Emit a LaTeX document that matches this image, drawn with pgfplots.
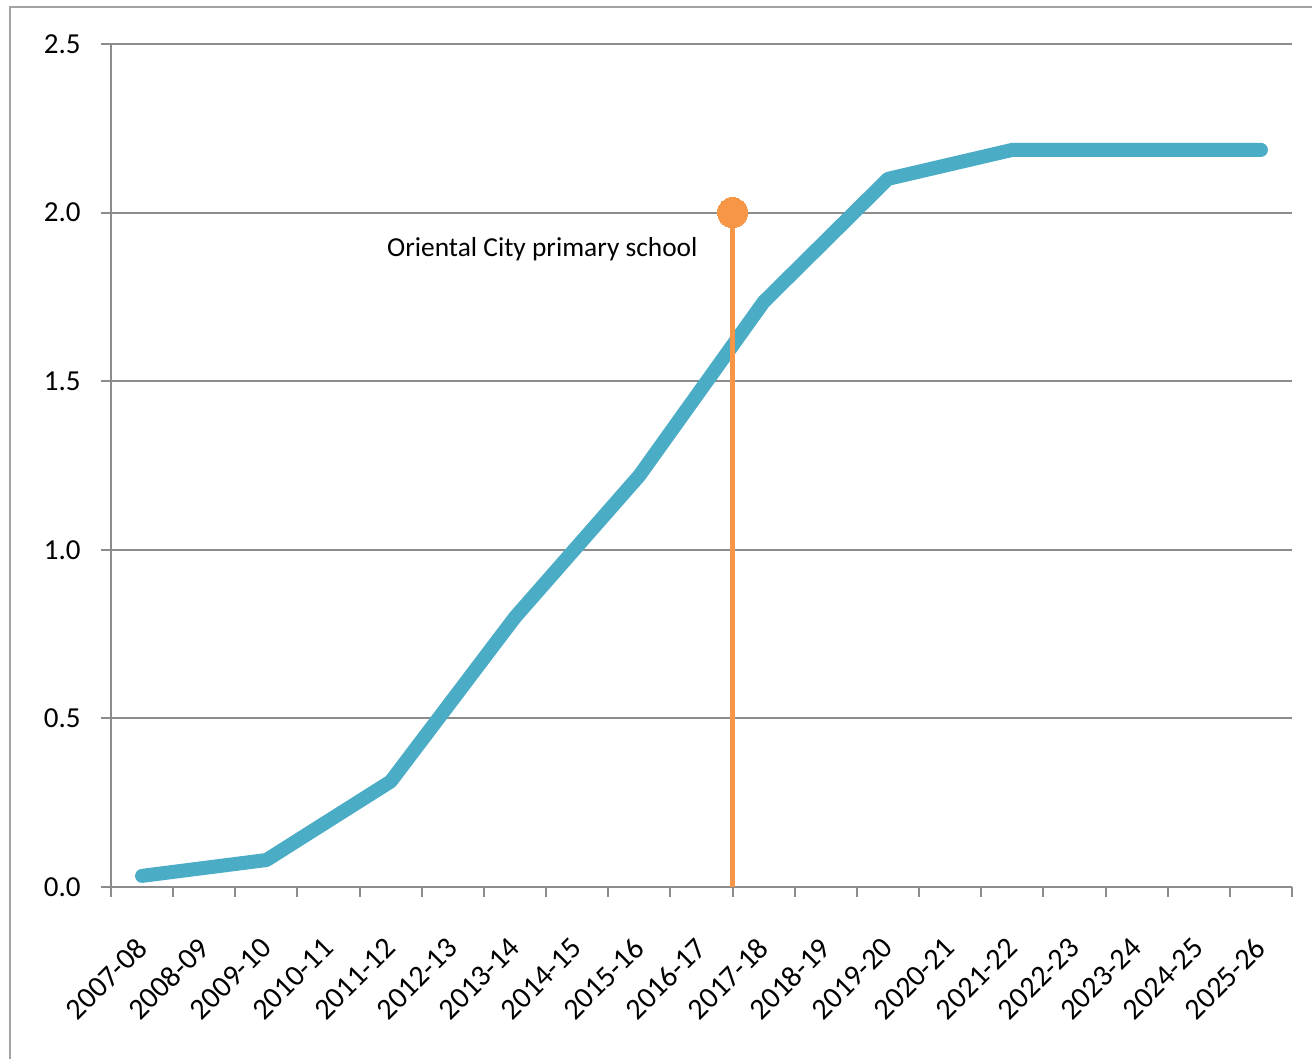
\documentclass[border=0pt]{standalone}
\usepackage{pgfplots}
\pgfplotsset{compat=1.18}
\usepackage{fontspec}
\setmainfont{Carlito}
\definecolor{aqua}{HTML}{4BACC6}
\definecolor{orng}{HTML}{F79646}
\definecolor{gridc}{HTML}{8C8C8C}
\begin{document}
\begin{tikzpicture}
\useasboundingbox (-55.5pt,-86pt) rectangle (600.5pt,443.5pt);
\draw[color=gridc!80, line width=1pt] (-50.5pt,-90pt) -- (-50.5pt,440pt) -- (610pt,440pt);
\begin{axis}[
  at={(0,0)}, anchor=south west,
  scale only axis, width=590.5pt, height=421.5pt,
  xmin=-0.5, xmax=18.5, ymin=0, ymax=2.5,
  axis x line=bottom, axis y line=left,
  axis line style={gridc, line width=1pt, -},
  xtick={0,...,18},
  xticklabels={2007-08,2008-09,2009-10,2010-11,2011-12,2012-13,2013-14,2014-15,2015-16,2016-17,2017-18,2018-19,2019-20,2020-21,2021-22,2022-23,2023-24,2024-25,2025-26},
  major x tick style={draw=none},
  minor xtick={-0.5,0.5,...,18.5},
  minor tick length=5pt,
  minor x tick style={gridc, line width=1pt},
  ytick={0,0.5,...,2.5},
  major tick length=5pt,
  tick align=outside,
  major y tick style={gridc, line width=1pt},
  ymajorgrids,
  grid style={gridc, line width=1pt},
  /pgf/number format/fixed, /pgf/number format/fixed zerofill, /pgf/number format/precision=1, /pgf/number format/assume math mode=true,
  yticklabel style={font=\fontsize{14.5pt}{16pt}\selectfont, anchor=east, inner sep=0pt, xshift=-10pt},
  xticklabel style={font=\fontsize{15pt}{17pt}\selectfont, rotate=45, anchor=east, inner sep=0pt},
  xticklabel shift=23pt,
  clip=false,
]
\addplot[aqua, line width=7pt, line cap=round, line join=round] coordinates {
(0,0.033) (2,0.08) (4,0.313) (6,0.80) (8,1.22) (10,1.735) (12,2.10) (14,2.186) (15,2.186) (16,2.186) (17,2.186) (18,2.186)
};
\addplot[orng, line width=2.5pt, mark=*, mark indices={2}, mark size=7.5pt, mark options={fill=orng, draw=orng, line width=0pt}] coordinates {(9.5,0) (9.5,2.0)};
\node[font=\fontsize{13.7pt}{15pt}\selectfont] at (axis cs:6.44,1.89) {Oriental City primary school};
\end{axis}
\end{tikzpicture}
\end{document}
